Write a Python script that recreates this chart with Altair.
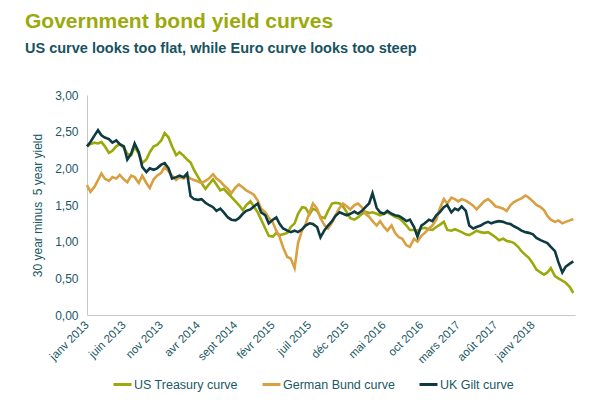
import altair as alt
import pandas as pd

# semi-monthly observations, Jan 2013 - Jun 2018
dates = pd.date_range("2013-01-01", periods=132, freq="SMS").strftime("%Y-%m-%d").tolist()

series_names = ["US Treasury curve", "German Bund curve", "UK Gilt curve"]
series_colors = ["#9AAA0B", "#D9A041", "#0E3B42"]

us = [2.30, 2.33, 2.35, 2.34, 2.36, 2.30, 2.21, 2.24, 2.30, 2.33,
      2.28, 2.20, 2.18, 2.29, 2.20, 2.07, 2.12, 2.22, 2.30, 2.32,
      2.38, 2.48, 2.42, 2.30, 2.18, 2.22, 2.17, 2.12, 2.08, 1.98,
      1.88, 1.80, 1.72, 1.78, 1.85, 1.78, 1.70, 1.72, 1.66, 1.61,
      1.55, 1.50, 1.43, 1.50, 1.55, 1.48, 1.40, 1.30, 1.18, 1.08,
      1.07, 1.12, 1.09, 1.10, 1.12, 1.20, 1.25, 1.38, 1.47, 1.46,
      1.37, 1.45, 1.42, 1.34, 1.32, 1.42, 1.52, 1.53, 1.52, 1.48,
      1.40, 1.32, 1.30, 1.33, 1.38, 1.41, 1.39, 1.40, 1.38, 1.36,
      1.38, 1.40, 1.37, 1.34, 1.32, 1.28, 1.22, 1.16, 1.16, 1.15,
      1.18, 1.19, 1.17, 1.16, 1.20, 1.23, 1.27, 1.16, 1.15, 1.17,
      1.15, 1.13, 1.10, 1.09, 1.12, 1.15, 1.13, 1.12, 1.13, 1.10,
      1.06, 1.02, 1.04, 1.01, 1.00, 0.98, 0.93, 0.87, 0.82, 0.78,
      0.70, 0.62, 0.58, 0.55, 0.58, 0.64, 0.53, 0.50, 0.47, 0.44,
      0.38, 0.30]

german = [1.77, 1.68, 1.75, 1.84, 1.93, 1.86, 1.83, 1.88, 1.86, 1.91,
          1.85, 1.81, 1.90, 1.88, 1.80, 1.90, 1.80, 1.73, 1.85, 1.90,
          1.94, 2.02, 1.96, 1.90, 1.84, 1.88, 1.86, 1.90, 1.86, 1.84,
          1.82, 1.80, 1.83, 1.86, 1.92, 1.86, 1.82, 1.77, 1.72, 1.66,
          1.74, 1.78, 1.74, 1.70, 1.67, 1.64, 1.56, 1.45, 1.40, 1.33,
          1.26, 1.15, 1.06, 0.92, 0.79, 0.77, 0.64, 0.98, 1.16, 1.24,
          1.40, 1.52, 1.45, 1.32, 1.22, 1.18, 1.26, 1.36, 1.46, 1.52,
          1.48, 1.44, 1.50, 1.52, 1.47, 1.38, 1.34, 1.28, 1.22, 1.28,
          1.20, 1.15, 1.22, 1.12, 1.06, 1.04, 0.95, 0.93, 1.04, 1.00,
          1.08, 1.12, 1.18, 1.22, 1.30, 1.45, 1.58, 1.52, 1.60, 1.58,
          1.55, 1.58, 1.56, 1.53, 1.49, 1.44, 1.50, 1.55, 1.58, 1.54,
          1.48, 1.47, 1.45, 1.42, 1.50, 1.54, 1.57, 1.59, 1.63, 1.60,
          1.55, 1.50, 1.47, 1.43, 1.35, 1.30, 1.27, 1.29, 1.25, 1.27,
          1.29, 1.31]

uk = [2.30, 2.36, 2.45, 2.52, 2.45, 2.42, 2.40, 2.35, 2.38, 2.33,
      2.30, 2.12, 2.20, 2.34, 2.22, 2.02, 1.95, 2.00, 1.98, 2.00,
      2.05, 2.07, 2.00, 1.86, 1.88, 1.90, 1.88, 1.93, 1.62, 1.58,
      1.57, 1.58, 1.53, 1.50, 1.47, 1.42, 1.45, 1.40, 1.33, 1.30,
      1.29, 1.32, 1.38, 1.42, 1.44, 1.48, 1.52, 1.40, 1.36, 1.25,
      1.30, 1.33, 1.24, 1.18, 1.15, 1.13, 1.15, 1.13, 1.17, 1.22,
      1.25, 1.24, 1.20, 1.06, 1.16, 1.22, 1.28, 1.35, 1.40, 1.38,
      1.36, 1.38, 1.41, 1.38, 1.42, 1.47, 1.52, 1.66, 1.46, 1.40,
      1.38, 1.42, 1.38, 1.36, 1.35, 1.32, 1.28, 1.30, 1.20, 1.07,
      1.22, 1.25, 1.30, 1.28, 1.36, 1.40, 1.47, 1.50, 1.40, 1.45,
      1.43, 1.48, 1.42, 1.22, 1.18, 1.20, 1.22, 1.25, 1.27, 1.25,
      1.27, 1.28, 1.27, 1.25, 1.24, 1.21, 1.18, 1.15, 1.13, 1.12,
      1.10, 1.05, 1.02, 1.00, 0.98, 0.93, 0.87, 0.72, 0.58, 0.66,
      0.70, 0.73]

month_names = ["janv", "févr", "mars", "avr", "mai", "juin",
               "juil", "août", "sept", "oct", "nov", "déc"]
y_ticks = [0, 0.5, 1.0, 1.5, 2.0, 2.5, 3.0]

rows = []
for name, vals in zip(series_names, [us, german, uk]):
    for d, v in zip(dates, vals):
        rows.append({"date": d, "value": v, "series": name})
df = pd.DataFrame(rows)

tick_dates = [alt.DateTime(year=2013 + k // 12, month=k % 12 + 1, date=1, utc=True)
              for k in range(0, 61, 5)]
month_js = "[" + ",".join("'" + m + "'" for m in month_names) + "]"

TEAL = "#1B5866"
FONT = "Liberation Sans"

chart = alt.Chart(df).mark_line(strokeWidth=2.6).encode(
    x=alt.X("date:T",
            scale=alt.Scale(type="utc",
                            domain=[alt.DateTime(year=2013, month=1, date=1, utc=True),
                                    alt.DateTime(year=2018, month=6, date=22, utc=True)],
                            nice=False),
            axis=alt.Axis(title=None, values=tick_dates, grid=False, ticks=False,
                          labelAngle=-45, labelAlign="right", labelBaseline="middle",
                          labelPadding=8, labelFontSize=11.5, labelColor=TEAL,
                          labelFont=FONT, domainColor="#C8C8C8", labelOverlap=False,
                          labelBound=False, labelFlush=False,
                          labelExpr=month_js + "[utcmonth(datum.value)] + ' ' + utcyear(datum.value)")),
    y=alt.Y("value:Q",
            scale=alt.Scale(domain=[0, 3], nice=False),
            axis=alt.Axis(title="30 year minus \u00a05 year yield", values=y_ticks, grid=False,
                          ticks=False, labelPadding=9, labelFontSize=12, labelColor=TEAL,
                          labelFont=FONT, titleFont=FONT, titleFontSize=12,
                          titleFontWeight="normal", titleColor=TEAL, titlePadding=10,
                          domainColor="#C8C8C8",
                          labelExpr="replace(format(datum.value, '.2f'), '.', ',')")),
    color=alt.Color("series:N",
                    scale=alt.Scale(domain=series_names, range=series_colors),
                    legend=alt.Legend(title=None, orient="none", direction="horizontal",
                                      legendX=25, legendY=279, symbolType="stroke",
                                      symbolSize=324, symbolStrokeWidth=3,
                                      labelOffset=1, columnPadding=18, labelLimit=0,
                                      labelFont=FONT, labelFontSize=12.5,
                                      labelColor=TEAL)),
    order=alt.Order("series:N"),
).properties(
    width=488,
    height=220,
    autosize=alt.AutoSizeParams(type="none"),
    padding={"left": 79, "top": 87, "right": 17, "bottom": 84},
    title=alt.TitleParams(
        text="Government bond yield curves",
        subtitle="US curve looks too flat, while Euro curve looks too steep",
        anchor="start", frame="group", dx=-62, offset=34,
        font=FONT, fontSize=21, fontWeight="bold", color="#9AAA0B",
        subtitleFont=FONT, subtitleFontSize=14.5, subtitleFontWeight="bold",
        subtitleColor="#17535F", subtitlePadding=10),
).configure_view(stroke=None)

chart.save("out.html", embed_options={"renderer": "svg", "actions": False})
